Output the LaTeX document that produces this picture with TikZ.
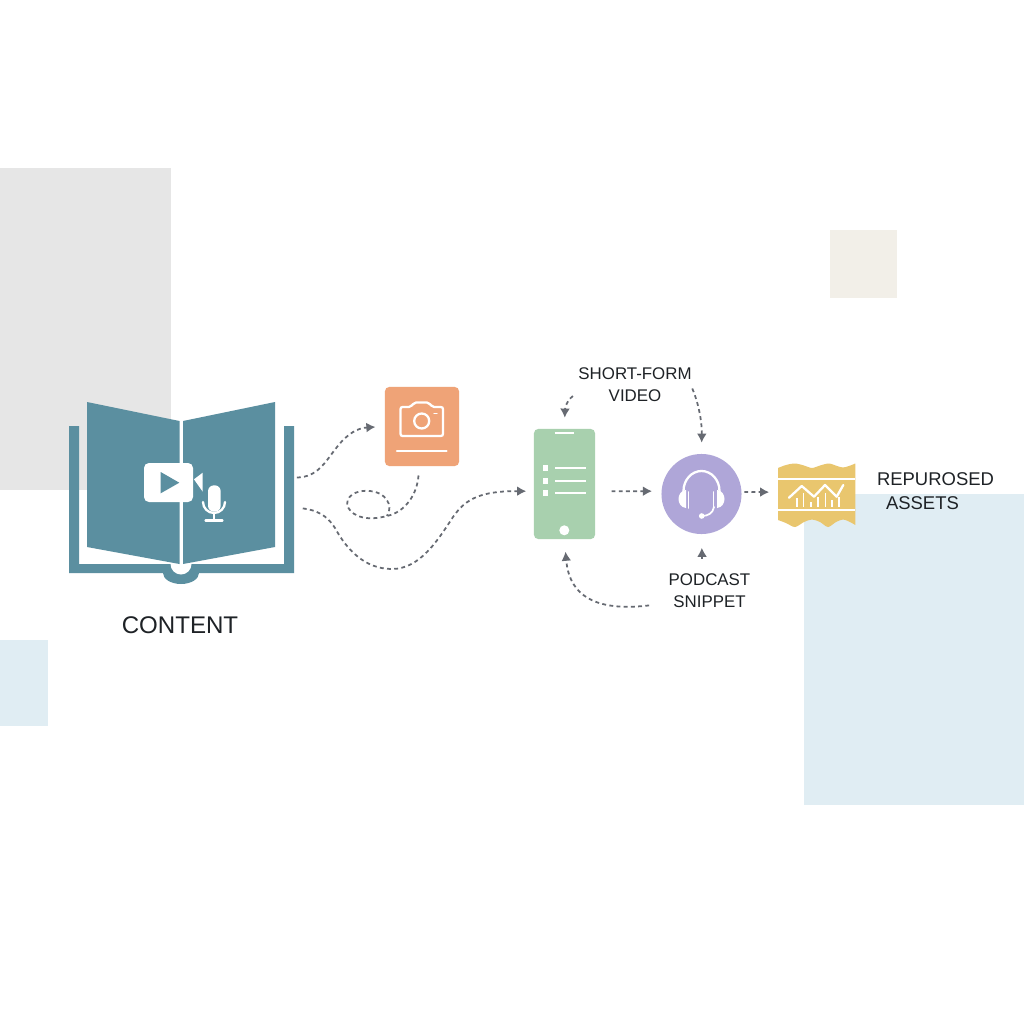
\documentclass[tikz,border=0pt]{standalone}
\usepackage{fontspec}
\setmainfont{Liberation Sans}
\usetikzlibrary{arrows.meta}
\definecolor{tealc}{HTML}{5B8FA0}
\definecolor{orangec}{HTML}{EFA377}
\definecolor{greenc}{HTML}{A8D0AE}
\definecolor{purplec}{HTML}{AFA6D8}
\definecolor{yellowc}{HTML}{E9C66E}
\definecolor{greyc}{HTML}{E6E6E6}
\definecolor{bluec}{HTML}{E0EDF3}
\definecolor{beigec}{HTML}{F2EFE8}
\definecolor{flowc}{HTML}{666A72}
\definecolor{inkc}{HTML}{1E2226}
\begin{document}
\begin{tikzpicture}[x=0.01cm, y=-0.01cm]
	\tikzstyle{flow}    = [draw=flowc, line width=0.5pt, dash pattern=on 1.1pt off 0.95pt]
	\tikzstyle{flowtip} = [flow, -{Latex[length=2.6pt, width=2.8pt]}]
	\tikzstyle{card}    = [rectangle, rounded corners=1.2pt, inner sep=0pt]
	\tikzstyle{caption} = [inner sep=0pt, align=center, text=inkc, font=\fontsize{4.8}{6.2}\selectfont]
	\tikzstyle{icon}    = [draw=white, line width=0.65pt, line cap=round]

	\fill[white] (0,0) rectangle (1024,1024);
	\fill[greyc]  (0,168) rectangle (171,490);
	\fill[bluec]  (0,640) rectangle (48,726);
	\fill[bluec]  (804,494) rectangle (1024,805);
	\fill[beigec] (830,230) rectangle (897,298);

	% book
	\node[inner sep=0pt, minimum width=2.25cm, minimum height=1.83cm] (book) at (181.5,493.5) {};
	\fill[tealc] (69,426) -- (79,426) -- (79,564) -- (284,564) -- (284,426) -- (294,426) -- (294,573) -- (69,573) -- cycle;
	\fill[tealc] (163,573) arc (180:0:18 and 11) -- cycle;
	\fill[white] (170.5,564) arc (180:0:10.5) -- cycle;
	\fill[tealc] (87,402) -- (179.5,421) -- (179.5,564) -- (87,547) -- cycle;
	\fill[tealc] (183,421) -- (275,402) -- (275,547) -- (183,564) -- cycle;
	\fill[white, rounded corners=1.4pt] (144,463) rectangle (193,502);
	\fill[tealc] (160.7,472) -- (179.3,482.7) -- (160.7,493.3) -- cycle;
	\fill[white] (194,479.3) -- (202.7,472.7) -- (202.7,491.7) -- cycle;
	\draw[icon] (203,502) arc (180:0:11);
	\draw[icon] (214,513) -- (214,520) (205.5,520.5) -- (222.5,520.5);
	\fill[white, rounded corners=1.7pt] (208,485.3) rectangle (220.7,511.7);

	\node[caption, font=\fontsize{6.85}{8}\selectfont] (content) at (180,625) {CONTENT};

	% camera
	\node[card, fill=orangec, minimum width=0.74cm, minimum height=0.79cm] (camera) at (422,426.5) {};
	\draw[icon, rounded corners=0.6pt] (400.5,420) -- (400.5,436) -- (443,436) -- (443,407) -- (432,407) -- (429,402.5) -- (414,402.5) -- (411,407) -- (400.5,407) -- cycle;
	\draw[icon] (421.7,421) circle (7.5);
	\draw[icon, line width=0.3pt] (434,413.3) -- (437,413.3);
	\draw[icon] (397,451) -- (446.5,451);

	% phone
	\node[card, fill=greenc, minimum width=0.61cm, minimum height=1.10cm] (phone) at (564.5,484) {};
	\draw[icon, line width=0.7pt, line cap=butt] (554.5,433) -- (574,433);
	\foreach \y in {468,480.7,493} {
		\fill[white] (542.7,\y-2.8) rectangle (548.3,\y+2.8);
		\draw[icon, line cap=butt] (555.3,\y) -- (585.7,\y);
	}
	\fill[white] (564.3,530.3) circle (5);

	% headset
	\node[circle, fill=purplec, inner sep=0pt, minimum size=0.80cm] (headset) at (701.5,494) {};
	\draw[icon] (683.5,491) arc (180:360:18 and 20);
	\fill[white] (686,490) .. controls (676,491) and (676,507) .. (686,508) -- cycle;
	\fill[white] (717,490) .. controls (727,491) and (727,507) .. (717,508) -- cycle;
	\draw[icon, line width=0.5pt] (688.5,492) -- (688.5,508) (713.5,492) -- (713.5,508);
	\draw[icon, line width=0.5pt] (714,507) .. controls (713,513) and (708,516) .. (702,516);
	\fill[white] (701.7,516) circle (2.8);

	% assets
	\node[inner sep=0pt, minimum width=0.78cm, minimum height=0.64cm] (assets) at (817,495) {};
	\fill[yellowc] plot[smooth] coordinates {(778,468) (786,465) (795,463.5) (804,465.5) (812,468) (820,465.5) (829,463.5) (837,466) (843,467.5) (849,466) (855.3,463.5)}
		-- plot[smooth] coordinates {(855.3,525) (849,521.5) (843,519.5) (836,522) (828,527) (820,522) (812,519.5) (804,522) (795,527) (786,523) (778,520)} -- cycle;
	\draw[icon, line cap=butt] (778,479.3) -- (855.3,479.3) (778,510) -- (855.3,510);
	\draw[icon, line join=round] (789,497.7) -- (801.7,486) -- (814,496.7) -- (825,485) -- (836.7,496.7) -- (843.3,485);
	\foreach \x/\y in {796.7/498.3, 803.3/493.3, 810.7/501.7, 818/496.7, 825.3/493.3, 832/500, 838.7/496.7}
		\draw[icon, line width=0.45pt, line cap=butt] (\x,506.7) -- (\x,\y);

	% captions
	\node[caption] (video) at (635,384.5) {SHORT-FORM\\VIDEO};
	\node[caption] (snippet) at (709.5,590.5) {PODCAST\\SNIPPET};
	\node[caption, align=left, font=\fontsize{5.25}{6.8}\selectfont] (repurposed) at (935.5,491.5) {REPUROSED\\\hspace*{0.09cm}ASSETS};

	% connectors
	\draw[flowtip, shorten <=0.6pt, shorten >=2.5pt] (book.8) .. controls (318,477) and (325,462) .. (337,447) .. controls (348,433) and (358,428) .. (camera.west);
	\coordinate (loopend) at (387,516);
	\draw[flow, shorten <=2.5pt] (camera.266) .. controls (417,495) and (405,512) .. (387,516) .. controls (372,520) and (353,520) .. (347,505) .. controls (347,492) and (362,490) .. (370,491) .. controls (385,492) and (394,505) .. (loopend);
	\draw[flowtip, shorten <=2.3pt, shorten >=2pt] (book.-7) .. controls (316,510) and (327,515) .. (335,528) .. controls (347,550) and (365,569) .. (392,569) .. controls (420,569) and (438,540) .. (453,517) .. controls (466,498) and (482,491) .. (phone.193);
	\draw[flowtip, shorten <=4.5pt, shorten >=2.5pt] (phone.-13) -- (headset.176);
	\draw[flowtip, shorten <=0.6pt, shorten >=2.3pt] (headset.3) -- (assets.176);
	\draw[flowtip, shorten <=1.7pt, shorten >=3pt] (video.188) .. controls (567,400) and (565,408) .. (phone.north);
	\draw[flowtip, shorten >=3pt] (video.-4) .. controls (698,402) and (702,420) .. (headset.north);
	\draw[flowtip, shorten <=4pt, shorten >=3.7pt] (snippet.112) -- (headset.south);
	\draw[flowtip, shorten <=5.4pt, shorten >=3.4pt] (snippet.197) .. controls (610,610) and (570,605) .. (phone.south);
\end{tikzpicture}
\end{document}
